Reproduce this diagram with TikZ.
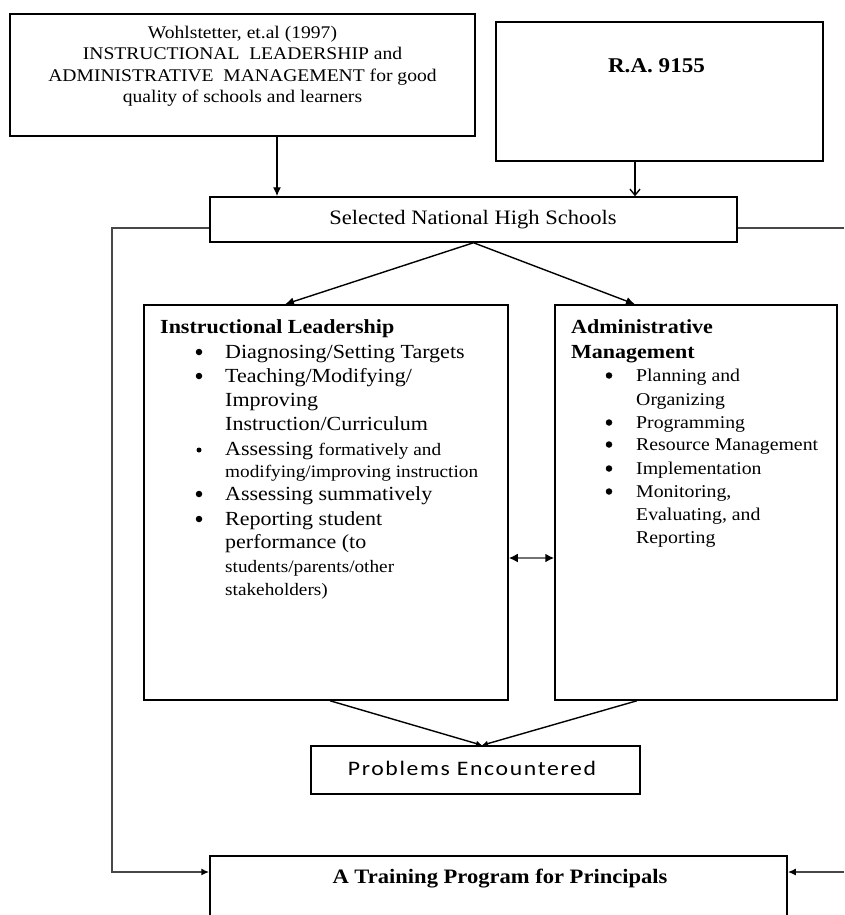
\documentclass[tikz,border=0pt]{standalone}
\usepackage{fontspec}
\setmainfont{Liberation Serif}[FakeStretch=1.1]
\newfontfamily\probfont{Carlito}[FakeStretch=1.15,LetterSpace=8]
\usetikzlibrary{arrows.meta}
\newcommand\fsz[1]{\fontsize{#1}{#1}\selectfont}
\begin{document}
\begin{tikzpicture}[x=1pt,y=-1pt,
  box/.style={draw=black, line width=1.5pt, inner sep=0pt},
  txt/.style={inner sep=0pt, anchor=base west},
  ctxt/.style={inner sep=0pt, anchor=base},
  arr/.style={line width=1.4pt, -{Latex[length=9pt,width=8pt]}},
  openarr/.style={line width=1.4pt, -{Straight Barb[length=6pt,width=10pt]}},
  fb/.style={line width=2.2pt, draw=black!72},
  fbarr/.style={fb, -{Latex[length=8pt,width=7pt,color=black]}},
  dbl/.style={line width=2.4pt, draw=black!55, {Latex[length=9pt,width=9pt,color=black]}-{Latex[length=9pt,width=9pt,color=black]}},
  conv/.style={line width=1.4pt, -{Latex[length=6pt,width=6pt]}},
  big/.style={txt, font=\fsz{20}},
  small/.style={txt, font=\fsz{17.5}},
  am/.style={txt, font=\fsz{18}},
  bul/.style={circle, fill=black, inner sep=0pt, minimum size=6.5pt},
  sbul/.style={circle, fill=black, inner sep=0pt, minimum size=5pt}
]
\useasboundingbox (0,0) rectangle (844,915);
\clip (0,0) rectangle (844,915);

% boxes
\node[box, minimum width=465pt, minimum height=122pt] (wohl) at (242.5,75) {};
\node[box, minimum width=327pt, minimum height=139pt] (ra) at (659.5,91.5) {};
\node[box, minimum width=527pt, minimum height=45pt] (sel) at (473.5,219.5) {};
\node[box, minimum width=364pt, minimum height=395pt] (il) at (326,502.5) {};
\node[box, minimum width=282pt, minimum height=395pt] (am) at (696,502.5) {};
\node[box, minimum width=329pt, minimum height=48pt] (prob) at (475.5,770) {};
\node[box, minimum width=577pt, minimum height=104pt] (train) at (498.5,908) {};

% top-left text
\node[ctxt, font=\fsz{17.8}] (w1) at (242.5,39) {Wohlstetter, et.al (1997)};
\node[ctxt, font=\fsz{17.8}] (w2) at (242.5,60) {INSTRUCTIONAL\ \ LEADERSHIP and};
\node[ctxt, font=\fsz{17.8}] (w3) at (242.5,82) {ADMINISTRATIVE\ \ MANAGEMENT for good};
\node[ctxt, font=\fsz{17.8}] (w4) at (242.5,103) {quality of schools and learners};

\node[ctxt, font=\bfseries\fsz{21}] (ratxt) at (656.5,73) {R.A. 9155};
\node[ctxt, font=\fsz{20.5}] (seltxt) at (473,224) {Selected National High Schools};
\node[ctxt, font=\probfont\fsz{20.6}] (probtxt) at (472,775) {Problems Encountered};
\node[ctxt, font=\bfseries\fsz{20.5}] (traintxt) at (500,883) {A Training Program for Principals};

% instructional leadership
\node[txt, font=\bfseries\fsz{20}] (ilh) at (160,333) {Instructional Leadership};
\node[bul] (ib1) at (199,352) {};
\node[big] (il1) at (225,358) {Diagnosing/Setting Targets};
\node[bul] (ib2) at (199,376) {};
\node[big] (il2) at (225,382) {Teaching/Modifying/};
\node[big] (il3) at (225,406) {Improving};
\node[big] (il4) at (225,430) {Instruction/Curriculum};
\node[sbul] (ib3) at (199,450) {};
\node[big] (il5) at (225,455) {Assessing {\fsz{17.5}formatively and}};
\node[small] (il6) at (225,477) {modifying/improving instruction};
\node[bul] (ib4) at (199,494) {};
\node[big] (il7) at (225,500) {Assessing summatively};
\node[bul] (ib5) at (199,519) {};
\node[big] (il8) at (225,525) {Reporting student};
\node[big] (il9) at (225,548) {performance (to};
\node[small] (il10) at (225,572) {students/parents/other};
\node[small] (il11) at (225,595) {stakeholders)};

% administrative management
\node[txt, font=\bfseries\fsz{20}] (amh1) at (571,333) {Administrative};
\node[txt, font=\bfseries\fsz{20}] (amh2) at (571,358) {Management};
\node[bul] (ab1) at (609,375.5) {};
\node[am] (am1) at (636,381) {Planning and};
\node[am] (am2) at (636,405) {Organizing};
\node[bul] (ab2) at (609,422.5) {};
\node[am] (am3) at (636,428) {Programming};
\node[bul] (ab3) at (609,444.5) {};
\node[am] (am4) at (636,450) {Resource Management};
\node[bul] (ab4) at (609,468.5) {};
\node[am] (am5) at (636,474) {Implementation};
\node[bul] (ab5) at (609,491.5) {};
\node[am] (am6) at (636,497) {Monitoring,};
\node[am] (am7) at (636,520) {Evaluating, and};
\node[am] (am8) at (636,543) {Reporting};

% helper coordinates
\coordinate (xa) at (277,0);
\coordinate (xb) at (635,0);
\coordinate (xc) at (285,0);
\coordinate (xd) at (635,0);
\coordinate (xe) at (330,0);
\coordinate (xf) at (637,0);
\coordinate (pc) at (482,0);
\coordinate (dc) at (0,558);
\coordinate (fbTL) at (112,228);
\coordinate (fbBL) at (112,872);
\coordinate (fbTR) at (844,228);
\coordinate (fbBR) at (844,872);

% connectors
\draw[arr] (wohl.south -| xa) -- (sel.north -| xa);
\draw[openarr] (ra.south -| xb) -- (sel.north -| xb);
\draw[arr] (sel.south) -- (il.north -| xc);
\draw[arr] (sel.south) -- (am.north -| xd);
\draw[dbl] (il.east |- dc) -- (am.west |- dc);
\draw[conv] (il.south -| xe) -- (prob.north -| pc);
\draw[conv] (am.south -| xf) -- (prob.north -| pc);
\draw[fbarr] (sel.west |- fbTL) -- (fbTL) -- (fbBL) -- (train.west |- fbBL);
\draw[fb] (sel.east |- fbTR) -- (fbTR);
\draw[fbarr] (fbBR) -- (train.east |- fbBR);
\end{tikzpicture}
\end{document}
